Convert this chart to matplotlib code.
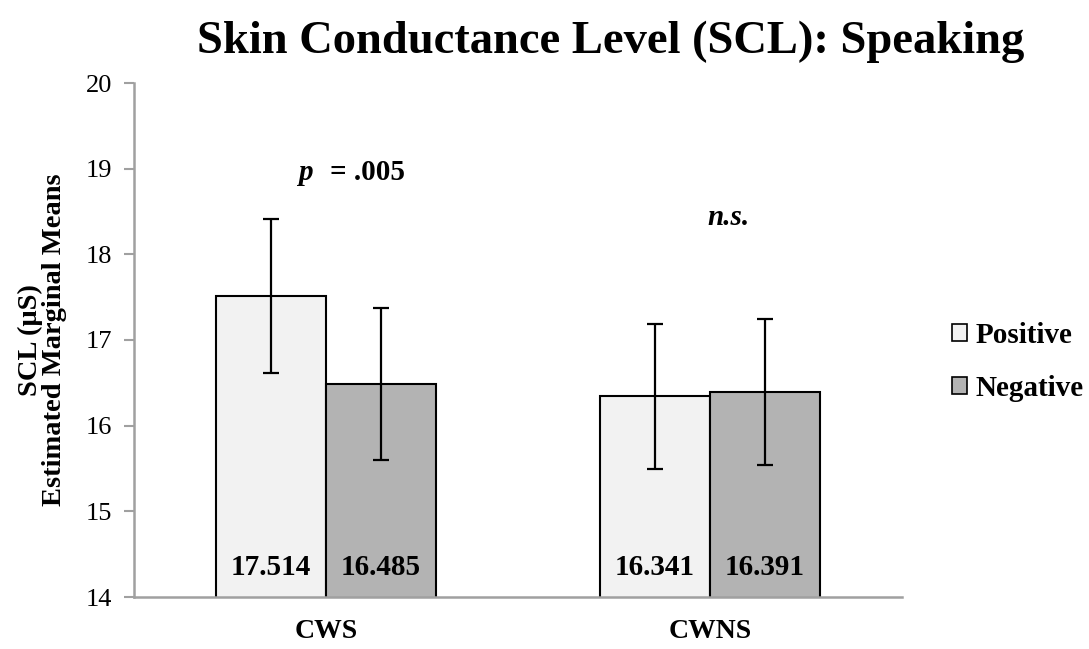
import matplotlib
matplotlib.use("Agg")
import matplotlib.pyplot as plt
from matplotlib.patches import Patch
import numpy as np

categories = ["CWS", "CWNS"]
series_names = ["Positive", "Negative"]
positive = [17.514, 16.341]
negative = [16.485, 16.391]
pos_err = [0.90, 0.85]
neg_err = [0.89, 0.85]
value_labels_pos = ["17.514", "16.341"]
value_labels_neg = ["16.485", "16.391"]
yticks = [14, 15, 16, 17, 18, 19, 20]

plt.rcParams['font.family'] = ['Liberation Serif', 'DejaVu Serif']

fig = plt.figure(figsize=(10.89, 6.49), dpi=100)
ax = fig.add_axes([134/1089, 52/649, (902-134)/1089, (597-83)/649])

x = np.arange(len(categories))
w = 0.286
c_pos = "#F2F2F2"
c_neg = "#B3B3B3"
ax.bar(x - w/2, positive, w, color=c_pos, edgecolor="black", linewidth=1.5, zorder=2)
ax.bar(x + w/2, negative, w, color=c_neg, edgecolor="black", linewidth=1.5, zorder=2)
ax.errorbar(x - w/2, positive, yerr=pos_err, fmt="none", ecolor="black", elinewidth=1.6,
            capsize=6, capthick=1.6, zorder=3)
ax.errorbar(x + w/2, negative, yerr=neg_err, fmt="none", ecolor="black", elinewidth=1.6,
            capsize=6, capthick=1.6, zorder=3)

for i in range(len(categories)):
    ax.text(x[i] - w/2, 14.35, value_labels_pos[i], ha="center", va="center",
            fontsize=21, fontweight="bold", zorder=4)
    ax.text(x[i] + w/2, 14.35, value_labels_neg[i], ha="center", va="center",
            fontsize=21, fontweight="bold", zorder=4)

ax.set_xlim(-0.5, 1.5)
ax.set_ylim(14, 20)
ax.set_yticks(yticks)
ax.set_xticks(x)
ax.set_xticklabels(categories, fontsize=20, fontweight="bold")
ax.tick_params(axis="x", length=0, pad=16)
ax.tick_params(axis="y", length=7, width=1.5, color="#A0A0A0", labelsize=19, pad=9)
for s in ["top", "right"]:
    ax.spines[s].set_visible(False)
for s in ["left", "bottom"]:
    ax.spines[s].set_color("#A0A0A0")
    ax.spines[s].set_linewidth(1.8)

ax.set_ylabel("SCL (μS)\nEstimated Marginal Means", fontsize=20.5, fontweight="bold",
              linespacing=0.95)
ax.yaxis.set_label_coords(-0.087, 0.5)

# annotations
ax.text(-0.034, 18.96, "p", ha="right", va="center", fontsize=21, fontweight="bold",
        fontstyle="italic")
ax.text(0.010, 18.96, "= .005", ha="left", va="center", fontsize=21, fontweight="bold")
ax.text(1.047, 18.43, "n.s.", ha="center", va="center", fontsize=21, fontweight="bold",
        fontstyle="italic")

fig.suptitle("Skin Conductance Level (SCL): Speaking", x=0.561, y=1 - 42/649,
             va="center", fontsize=33.5, fontweight="bold")

handles = [Patch(facecolor=c_pos, edgecolor="black", linewidth=1.2),
           Patch(facecolor=c_neg, edgecolor="black", linewidth=1.2)]
fig.legend(handles, series_names, loc="upper left", bbox_to_anchor=(952/1089, 1 - 322/649),
           frameon=False, borderpad=0, borderaxespad=0, handlelength=0.52, handleheight=0.52,
           handletextpad=0.3, labelspacing=0.9,
           prop={"size": 21, "weight": "bold"})

fig.savefig("out.png", dpi=100)
